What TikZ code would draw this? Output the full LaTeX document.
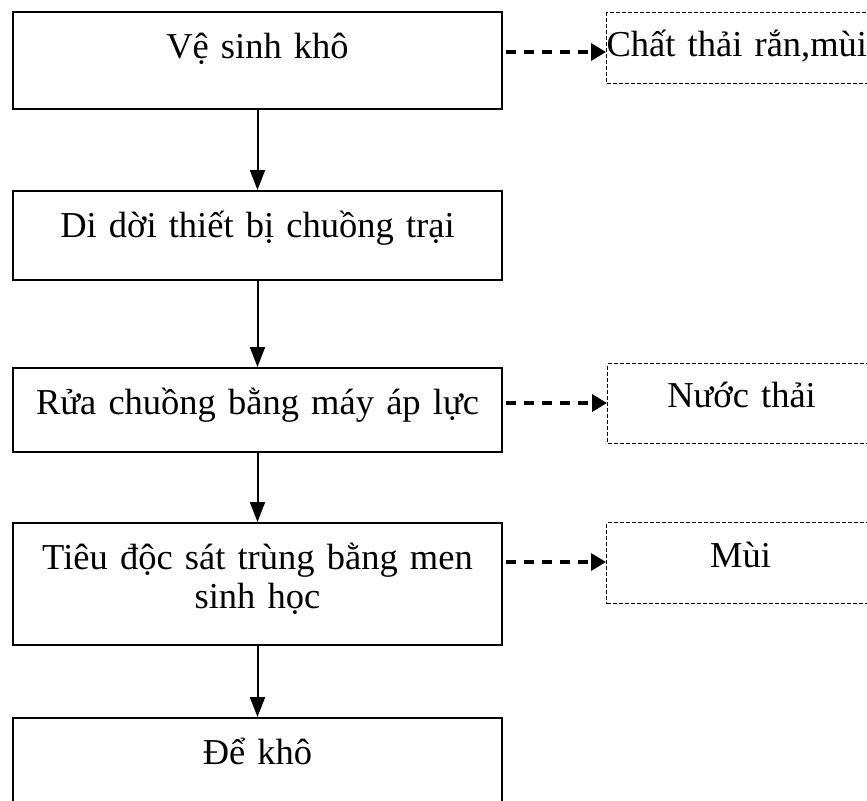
\documentclass[tikz,border=0pt]{standalone}
\usepackage{fontspec}
\setmainfont{Liberation Serif}
\usetikzlibrary{arrows.meta}

\tikzset{
  stage/.style={draw, line width=1pt, inner sep=0pt, anchor=north west,
    minimum width=244.5pt, text width=244.5pt, align=center, text height=23pt,
    font=\fontsize{18.25pt}{19.5pt}\selectfont},
  waste/.style={draw, line width=0.6pt, dash pattern=on 2pt off 1pt,
    inner sep=0pt, anchor=north west, minimum width=134pt, text width=134pt,
    align=center, text height=22pt, font=\fontsize{18.25pt}{19.5pt}\selectfont},
  flow/.style={line width=1pt, -{Triangle[length=10pt,width=7.5pt]}},
  emit/.style={line width=1.75pt, dash pattern=on 5pt off 4pt,
    shorten <=1.5pt, -{Triangle[length=7.5pt,width=8.5pt]}}
}

\begin{document}
\begin{tikzpicture}[x=0.5pt,y=-0.5pt]
  \useasboundingbox (0,0) rectangle (867,800);
  % cac buoc
  \node[stage, text depth=25.5pt] (b1) at (12,11)  {Vệ sinh khô};
  \node[stage, text depth=21.5pt] (b2) at (12,190) {Di dời thiết bị chuồng trại};
  \node[stage, text depth=19pt]   (b3) at (12,367) {Rửa chuồng bằng máy áp lực};
  \node[stage, text depth=38pt]   (b4) at (12,522) {Tiêu độc sát trùng bằng men\\ sinh học};
  \node[stage, text depth=35pt]   (b5) at (12,717) {Để khô};
  % chat thai
  \node[waste, text depth=13.5pt, align=left] (w1) at (606,12) {Chất thải rắn,mùi};
  \node[waste, text depth=18pt] (w3) at (607,363) {Nước thải};
  \node[waste, text height=22.5pt, text depth=18pt] (w4) at (606,522) {Mùi};

  \foreach \a/\b in {b1/b2,b2/b3,b3/b4,b4/b5}
    { \draw[flow] (\a.south) -- (\b.north); }

  \draw[emit] (b1.east |- 0,52)  -- (w1.west |- 0,52);
  \draw[emit] (b3.east |- 0,403) -- (w3.west |- 0,403);
  \draw[emit] (b4.east |- 0,562) -- (w4.west |- 0,562);
\end{tikzpicture}
\end{document}
